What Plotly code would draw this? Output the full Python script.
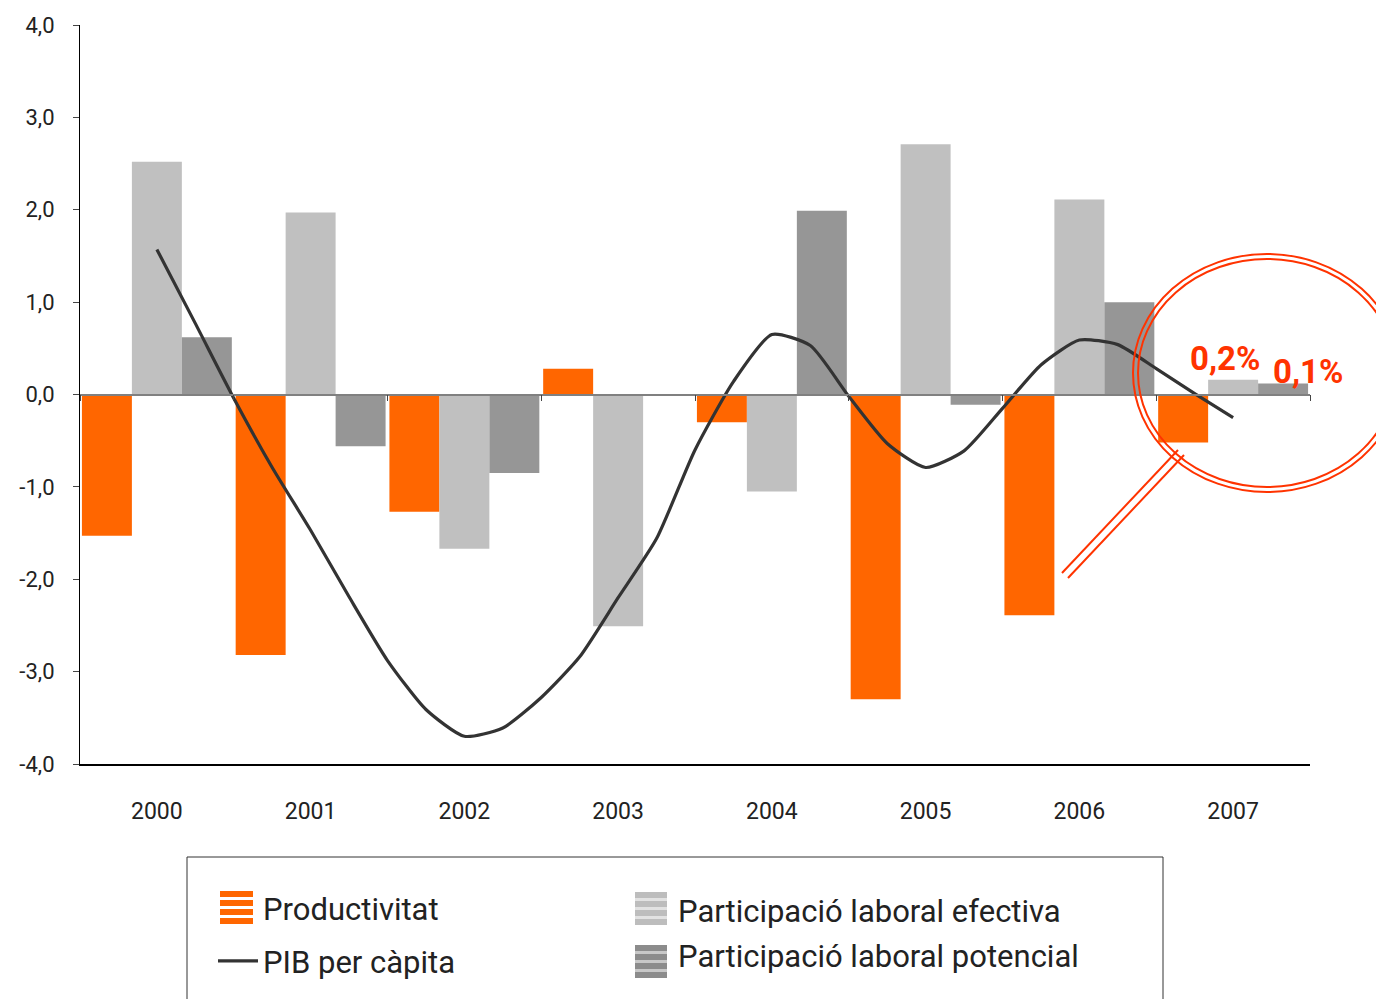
import plotly.graph_objects as go

# --- data ---
years = [2000, 2001, 2002, 2003, 2004, 2005, 2006, 2007]
productivitat = [-1.53, -2.82, -1.27, 0.28, -0.30, -3.30, -2.39, -0.52]
part_efectiva = [2.52, 1.97, -1.67, -2.51, -1.05, 2.71, 2.11, 0.16]
part_potencial = [0.62, -0.56, -0.85, 0.00, 1.99, -0.11, 1.00, 0.12]

pib_t = [2000.0, 2000.25, 2000.5, 2000.75, 2001.0, 2001.25, 2001.5, 2001.75,
         2002.0, 2002.25, 2002.5, 2002.75, 2003.0, 2003.25, 2003.5, 2003.75,
         2004.0, 2004.25, 2004.5, 2004.75, 2005.0, 2005.25, 2005.5, 2005.75,
         2006.0, 2006.25, 2006.5, 2006.75, 2007.0]
pib_capita = [1.57, 0.77, -0.04, -0.79, -1.47, -2.19, -2.88, -3.41,
              -3.70, -3.61, -3.28, -2.84, -2.20, -1.56, -0.60, 0.14,
              0.65, 0.53, -0.02, -0.53, -0.79, -0.61, -0.15, 0.32,
              0.59, 0.54, 0.28, 0.01, -0.25]

y_ticks = [-4, -3, -2, -1, 0, 1, 2, 3, 4]
y_ticktext = ["-4,0", "-3,0", "-2,0", "-1,0", "0,0", "1,0", "2,0", "3,0", "4,0"]

ORANGE = "#FF6600"
LIGHT = "#C0C0C0"
DARK = "#969696"
LINE = "#333333"
RED = "#FF3300"
FONT = "Roboto"

# page has an 8px body margin, so the figure is a bit smaller than the window
OFF = 8
W, H = 1376, 991
L, R, T, B = 72, 74, 17, 235


def px(x):
    # page pixel -> paper x
    return (x - OFF - L) / (W - L - R)


def py(y):
    # page pixel -> paper y
    return (H - B - (y - OFF)) / (H - T - B)


fig = go.Figure()
fig.add_trace(go.Bar(x=years, y=productivitat, name="Productivitat", showlegend=False,
                     marker=dict(color=ORANGE, line_width=0)))
fig.add_trace(go.Bar(x=years, y=part_efectiva, name="Participació laboral efectiva",
                     showlegend=False, marker=dict(color=LIGHT, line_width=0)))
fig.add_trace(go.Bar(x=years, y=part_potencial, name="Participació laboral potencial",
                     showlegend=False, marker=dict(color=DARK, line_width=0)))
fig.add_trace(go.Scatter(x=pib_t, y=pib_capita, name="PIB per càpita", mode="lines",
                         line=dict(color=LINE, width=3.2, shape="spline", smoothing=0.6),
                         xaxis="x2", legend="legend", legendrank=2, legendgroup="pib"))

# legend entries for the bars (the striped patches are drawn as shapes below)
for name, leg, rank in [("Productivitat", "legend", 1),
                        ("Participació laboral efectiva", "legend2", 1),
                        ("Participació laboral potencial", "legend2", 2)]:
    fig.add_trace(go.Scatter(x=[None], y=[None], mode="markers", name=name,
                             marker=dict(color="rgba(0,0,0,0)"), legend=leg,
                             legendrank=rank, legendgroup=name))

fig.update_layout(
    width=W, height=H,
    margin=dict(l=L, r=R, t=T, b=B, autoexpand=False),
    plot_bgcolor="white", paper_bgcolor="white",
    barmode="group", bargap=0.025, bargroupgap=0,
    font=dict(family=FONT, color="#222222"),
    xaxis=dict(range=[1999.5, 2007.5], tickvals=years, showgrid=False, zeroline=False,
               showline=True, linecolor="#000000", linewidth=1.5, ticks="",
               ticklabelstandoff=26, tickfont=dict(size=23, family=FONT)),
    xaxis2=dict(range=[1999.5, 2007.5], overlaying="x", anchor="free", position=0.5,
                side="bottom", showgrid=False, zeroline=False, showline=True,
                linecolor="#808080", linewidth=1.5, ticks="outside", ticklen=6,
                tickcolor="#444444", tickvals=[y - 0.5 for y in years] + [2007.5],
                showticklabels=False, layer="above traces"),
    yaxis=dict(range=[-4, 4], tickvals=y_ticks, ticktext=y_ticktext, showgrid=False,
               zeroline=False, showline=True, linecolor="#000000", linewidth=1.2,
               ticks="outside", ticklen=6, tickcolor="#444444", ticklabelstandoff=14,
               tickfont=dict(size=22, family=FONT)),
    legend=dict(x=px(213), y=py(881), xanchor="left", yanchor="top",
                orientation="v", tracegroupgap=10, font=dict(size=31, family=FONT),
                itemwidth=40, bgcolor="rgba(0,0,0,0)"),
    legend2=dict(x=px(638), y=py(883), xanchor="left", yanchor="top",
                 orientation="v", tracegroupgap=2, font=dict(size=31, family=FONT),
                 itemwidth=30, bgcolor="rgba(0,0,0,0)"),
    showlegend=True,
)

# legend frame (clipped by page bottom, as in the reference)
fig.add_shape(type="rect", xref="paper", yref="paper",
              x0=px(187), x1=px(1163), y0=py(857), y1=py(1010),
              line=dict(color="#333333", width=1))

# striped legend patches
patches = [(220, 253, 891, ORANGE, "#FFFFFF"),
           (635, 667, 892, "#BDBDBD", "#E2E2E2"),
           (635, 667, 945, "#8C8C8C", "#C8C8C8")]
for (x0, x1, top, col, gap) in patches:
    fig.add_shape(type="rect", xref="paper", yref="paper", x0=px(x0), x1=px(x1),
                  y0=py(top), y1=py(top + 33), line_width=0, fillcolor=gap, layer="above")
    for k in range(4):
        fig.add_shape(type="rect", xref="paper", yref="paper", x0=px(x0), x1=px(x1),
                      y0=py(top + k * 9), y1=py(top + k * 9 + 6), line_width=0,
                      fillcolor=col, layer="above")

# magnifier highlight
for (x0, y0, x1, y1) in [(1133, 254, 1401, 492), (1138, 259, 1396, 487)]:
    fig.add_shape(type="circle", xref="paper", yref="paper",
                  x0=px(x0), x1=px(x1), y0=py(y0), y1=py(y1),
                  line=dict(color=RED, width=2))
for (x0, y0, x1, y1) in [(1178, 450, 1062, 573), (1184, 455, 1068, 578)]:
    fig.add_shape(type="line", xref="paper", yref="paper",
                  x0=px(x0), x1=px(x1), y0=py(y0), y1=py(y1),
                  line=dict(color=RED, width=2))

fig.add_annotation(x=px(1225), y=py(358), xref="paper", yref="paper", text="<b>0,2%</b>",
                   xanchor="center", yanchor="middle", showarrow=False,
                   font=dict(size=33, color=RED, family=FONT))
fig.add_annotation(x=px(1308), y=py(371), xref="paper", yref="paper", text="<b>0,1%</b>",
                   xanchor="center", yanchor="middle", showarrow=False,
                   font=dict(size=33, color=RED, family=FONT))

fig.write_html("out.html")
